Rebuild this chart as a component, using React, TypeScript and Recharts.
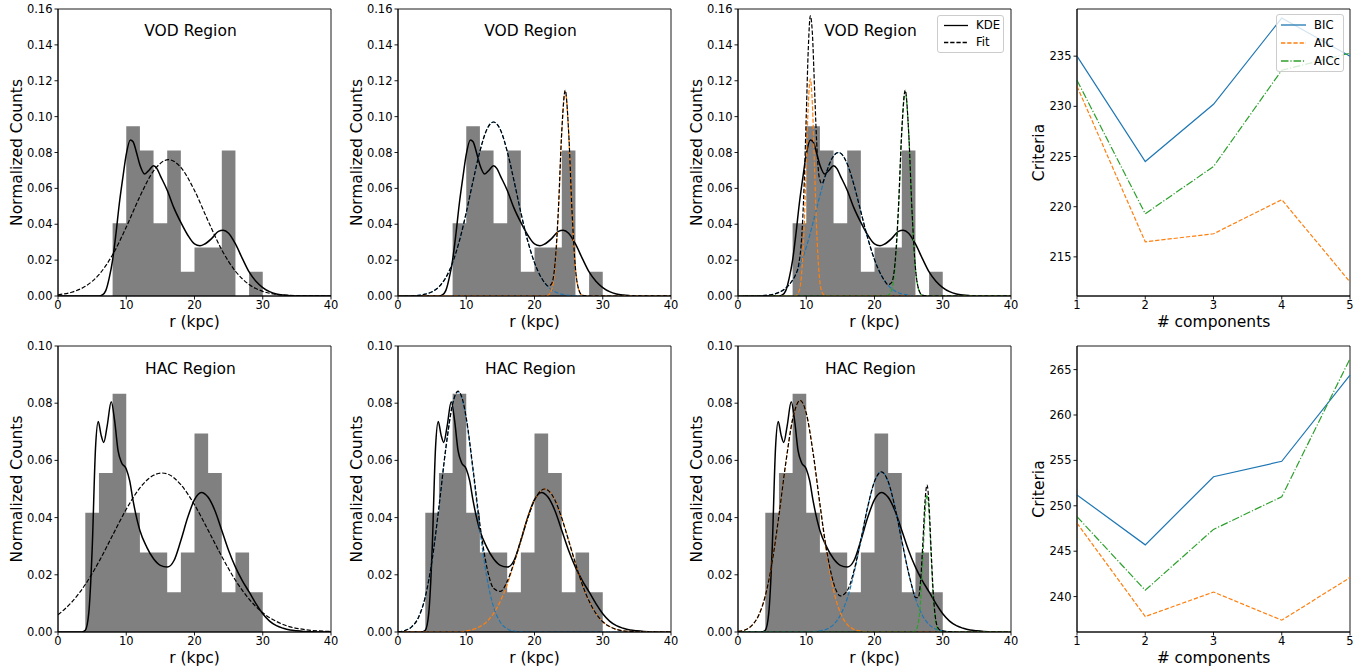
import React from "react";
import { ComposedChart, LineChart, Line, Area, XAxis, YAxis, Label, Legend, ReferenceArea } from "recharts";

const FONT = "'DejaVu Sans', sans-serif";
const BLUE = "#1f77b4";
const ORANGE = "#ff7f0e";
const GREEN = "#2ca02c";
const DASH = "4.3 1.9";
const DASHDOT = "7.5 1.9 1.2 1.9";

// histogram bins (edges in kpc, normalized heights)
const vodEdges = [8, 10, 12, 14, 16, 18, 20, 22, 24, 26, 28, 30];
const vodHeights = [0.0405, 0.0946, 0.0811, 0.0405, 0.0811, 0.0135, 0.027, 0.027, 0.0811, 0, 0.0135];
const hacEdges = [4, 6, 8, 10, 12, 14, 16, 18, 20, 22, 24, 26, 28, 30];
const hacHeights = [0.0417, 0.0556, 0.0833, 0.0417, 0.0278, 0.0278, 0.0139, 0.0278, 0.0694, 0.0556, 0.0139, 0.0278, 0.0139];

// KDE curves
const vodKde: [number, number][] = [[0, 0], [6, 0], [6.5, 0.0006], [7, 0.003], [7.5, 0.01], [8, 0.02], [8.5, 0.035], [9, 0.052], [9.5, 0.066], [10, 0.079], [10.6, 0.087], [11, 0.086], [11.5, 0.08], [12, 0.073], [12.7, 0.068], [13.3, 0.07], [14, 0.0726], [14.5, 0.071], [15, 0.067], [16, 0.059], [17, 0.049], [18, 0.041], [19, 0.034], [20, 0.029], [20.8, 0.028], [21.5, 0.029], [22.5, 0.032], [23.5, 0.036], [24.2, 0.0367], [25, 0.035], [26, 0.029], [27, 0.021], [28, 0.0134], [29, 0.0082], [30, 0.0047], [31, 0.0024], [32, 0.0011], [33, 0.0005], [34, 0.0002], [35, 0], [40, 0]];
const hacKde: [number, number][] = [[0, 0], [3.5, 0], [4, 0.0006], [4.5, 0.0064], [5, 0.0285], [5.5, 0.0645], [5.9, 0.0736], [6.3, 0.069], [6.7, 0.0663], [7.2, 0.072], [7.8, 0.0805], [8.3, 0.0738], [8.8, 0.0634], [9.3, 0.0593], [10, 0.057], [10.5, 0.0529], [11, 0.0459], [12, 0.0355], [13, 0.0297], [14, 0.0256], [15, 0.0233], [16, 0.0227], [17, 0.025], [18, 0.032], [19, 0.04], [20, 0.0463], [21, 0.0488], [22, 0.0471], [23, 0.0424], [24, 0.0355], [25, 0.0285], [26, 0.0227], [27, 0.018], [28, 0.014], [29, 0.0099], [30, 0.0064], [31, 0.0038], [32, 0.0022], [33, 0.0013], [34, 0.0007], [35, 0.0004], [36, 0.0002], [37, 0.0001], [38, 0], [40, 0]];

// VOD fits
const vodFit1: [number, number][] = [[0, 0.0007], [2, 0.0021], [4, 0.0054], [6, 0.0119], [8, 0.023], [10, 0.0384], [12, 0.0555], [14, 0.0697], [16.2, 0.076], [18, 0.0717], [20, 0.0588], [22, 0.0418], [24, 0.0257], [26, 0.0138], [28, 0.0064], [30, 0.0026], [32, 0.0009], [34, 0.0003], [36, 0.0001], [40, 0]];
const vodFit2Blue: [number, number][] = [[0, 0], [2, 0.0001], [4, 0.001], [5, 0.0024], [6, 0.0051], [7, 0.0102], [8, 0.0186], [9, 0.0308], [10, 0.0465], [11, 0.0642], [12, 0.0807], [13, 0.0927], [14, 0.097], [15, 0.0927], [16, 0.0807], [17, 0.0642], [18, 0.0465], [19, 0.0308], [20, 0.0186], [21, 0.0102], [22, 0.0051], [23, 0.0024], [24, 0.001], [26, 0.0001], [28, 0], [40, 0]];
const vodNarrow: [number, number][] = [[0, 0], [21, 0], [21.5, 0], [22, 0.0004], [22.5, 0.0033], [23, 0.0154], [23.5, 0.0469], [24, 0.0913], [24.5, 0.114], [25, 0.0913], [25.5, 0.0469], [26, 0.0154], [26.5, 0.0033], [27, 0.0004], [27.5, 0], [40, 0]];
const vodFit2: [number, number][] = [[0, 0], [2, 0.0001], [4, 0.001], [5, 0.0024], [6, 0.0051], [7, 0.0102], [8, 0.0186], [9, 0.0308], [10, 0.0465], [11, 0.0642], [12, 0.0807], [13, 0.0927], [14, 0.097], [15, 0.0927], [16, 0.0807], [17, 0.0642], [18, 0.0465], [19, 0.0308], [20, 0.0186], [21, 0.0102], [21.5, 0.0073], [22, 0.0055], [22.5, 0.0068], [23, 0.0178], [23.5, 0.0484], [24, 0.0923], [24.5, 0.1146], [25, 0.0917], [25.5, 0.0471], [26, 0.0155], [26.5, 0.0034], [27, 0.0004], [28, 0], [40, 0]];
const vodFit3Orange: [number, number][] = [[0, 0], [7.8, 0], [8.4, 0.0001], [8.9, 0.0022], [9.3, 0.0116], [9.7, 0.0393], [10, 0.0734], [10.3, 0.1068], [10.6, 0.121], [10.9, 0.1068], [11.2, 0.0734], [11.5, 0.0393], [11.9, 0.0116], [12.3, 0.0022], [12.8, 0.0001], [13.4, 0], [40, 0]];
const vodFit3Blue: [number, number][] = [[0, 0], [3, 0.0001], [4, 0.0003], [5, 0.0008], [6, 0.002], [7, 0.0044], [8, 0.0089], [9, 0.0164], [10, 0.0272], [11, 0.041], [12, 0.056], [13, 0.0695], [14, 0.0781], [14.7, 0.08], [15, 0.0797], [16, 0.0737], [17, 0.0618], [18, 0.047], [19, 0.0324], [20, 0.0203], [21, 0.0115], [22, 0.0059], [23, 0.0028], [24, 0.0012], [25, 0.0005], [26, 0.0002], [27, 0.0001], [28, 0], [40, 0]];
const vodFit3: [number, number][] = [[0, 0], [3, 0.0001], [4, 0.0003], [5, 0.0008], [6, 0.002], [7, 0.0044], [7.8, 0.0078], [8.4, 0.0116], [8.9, 0.0177], [9.3, 0.0309], [9.7, 0.0629], [10, 0.1006], [10.3, 0.1379], [10.6, 0.1562], [10.9, 0.1463], [11.2, 0.1174], [11.5, 0.0878], [11.9, 0.0662], [12.3, 0.0626], [12.8, 0.0672], [13.4, 0.0737], [14, 0.0781], [14.7, 0.08], [15, 0.0797], [16, 0.0737], [17, 0.0618], [18, 0.047], [19, 0.0324], [20, 0.0203], [21, 0.0115], [21.5, 0.0084], [22, 0.0063], [22.5, 0.0074], [23, 0.0182], [23.5, 0.0487], [24, 0.0925], [24.5, 0.1147], [25, 0.0918], [25.5, 0.0472], [26, 0.0156], [26.5, 0.0034], [27, 0.0005], [28, 0], [40, 0]];

// HAC fits
const hacFit1: [number, number][] = [[0, 0.006], [2, 0.0104], [4, 0.0166], [6, 0.0246], [8, 0.0338], [10, 0.0429], [12, 0.0504], [14, 0.0548], [15.2, 0.0556], [16, 0.0553], [18, 0.0515], [20, 0.0445], [22, 0.0356], [24, 0.0264], [26, 0.0181], [28, 0.0115], [30, 0.0067], [32, 0.0037], [34, 0.0018], [36, 0.0009], [38, 0.0004], [40, 0.0002]];
const hacFit2Blue: [number, number][] = [[0, 0.0001], [1, 0.0005], [2, 0.0018], [3, 0.0051], [4, 0.0123], [5, 0.0252], [6, 0.0437], [7, 0.0641], [8, 0.0796], [8.8, 0.084], [9.5, 0.0806], [10, 0.0745], [11, 0.0561], [12, 0.0358], [13, 0.0193], [14, 0.0088], [15, 0.0034], [16, 0.0011], [17, 0.0003], [18, 0.0001], [19, 0], [40, 0]];
const hacFit2Orange: [number, number][] = [[0, 0], [9, 0], [10, 0.0004], [11, 0.0009], [12, 0.0019], [13, 0.0036], [14, 0.0065], [15, 0.0108], [16, 0.0166], [17, 0.024], [18, 0.032], [19, 0.0398], [20, 0.0461], [21, 0.0495], [21.5, 0.05], [22, 0.0495], [23, 0.0461], [24, 0.0398], [25, 0.032], [26, 0.024], [27, 0.0166], [28, 0.0108], [29, 0.0065], [30, 0.0036], [31, 0.0019], [32, 0.0009], [33, 0.0004], [34, 0.0002], [36, 0], [40, 0]];
const hacFit2: [number, number][] = [[0, 0.0001], [1, 0.0005], [2, 0.0018], [3, 0.0051], [4, 0.0123], [5, 0.0252], [6, 0.0437], [7, 0.0641], [8, 0.0797], [8.8, 0.0842], [9.5, 0.0809], [10, 0.0749], [11, 0.057], [12, 0.0377], [13, 0.0229], [14, 0.0153], [15, 0.0142], [16, 0.0177], [17, 0.0243], [18, 0.0321], [19, 0.0398], [20, 0.0461], [21, 0.0495], [21.5, 0.05], [22, 0.0495], [23, 0.0461], [24, 0.0398], [25, 0.032], [26, 0.024], [27, 0.0166], [28, 0.0108], [29, 0.0065], [30, 0.0036], [31, 0.0019], [32, 0.0009], [33, 0.0004], [34, 0.0002], [36, 0], [40, 0]];
const hacFit3Orange: [number, number][] = [[0, 0.0002], [1, 0.0007], [2, 0.0022], [3, 0.0057], [4, 0.0126], [5, 0.0244], [6, 0.0408], [7, 0.0591], [8, 0.0743], [9.1, 0.081], [10, 0.0765], [11, 0.0626], [12, 0.0444], [13, 0.0273], [14, 0.0146], [15, 0.0067], [16, 0.0027], [17, 0.0009], [18, 0.0003], [19, 0.0001], [20, 0], [40, 0]];
const hacFit3Blue: [number, number][] = [[0, 0], [10, 0], [11, 0.0001], [12, 0.0004], [13, 0.001], [14, 0.0026], [15, 0.0059], [16, 0.0117], [17, 0.0206], [18, 0.0319], [19, 0.0436], [20, 0.0526], [21, 0.056], [22, 0.0526], [23, 0.0436], [24, 0.0319], [25, 0.0206], [26, 0.0117], [27, 0.0059], [28, 0.0026], [29, 0.001], [30, 0.0004], [31, 0.0001], [32, 0], [40, 0]];
const hacFit3Green: [number, number][] = [[0, 0], [25.5, 0], [26, 0.0004], [26.4, 0.0029], [26.8, 0.0126], [27.1, 0.0265], [27.4, 0.0414], [27.7, 0.048], [28, 0.0414], [28.3, 0.0265], [28.6, 0.0126], [29, 0.0029], [29.4, 0.0004], [29.9, 0], [40, 0]];
const hacFit3: [number, number][] = [[0, 0.0002], [1, 0.0007], [2, 0.0022], [3, 0.0057], [4, 0.0126], [5, 0.0244], [6, 0.0408], [7, 0.0591], [8, 0.0743], [9.1, 0.081], [10, 0.0765], [11, 0.0627], [12, 0.0448], [13, 0.0283], [14, 0.0172], [15, 0.0126], [16, 0.0144], [17, 0.0215], [18, 0.0322], [19, 0.0437], [20, 0.0526], [21, 0.056], [22, 0.0526], [23, 0.0436], [24, 0.0319], [25, 0.0206], [25.5, 0.0158], [26, 0.0121], [26.4, 0.012], [26.8, 0.0194], [27.1, 0.032], [27.4, 0.0457], [27.7, 0.0514], [28, 0.044], [28.3, 0.0285], [28.6, 0.0141], [29, 0.0039], [29.4, 0.0011], [29.9, 0.0004], [31, 0.0001], [32, 0], [40, 0]];

// information criteria vs number of components
const nComponents = [1, 2, 3, 4, 5];
const vodBic = [235.0, 224.5, 230.2, 238.8, 235.0];
const vodAic = [232.0, 216.5, 217.3, 220.7, 212.5];
const vodAicc = [232.6, 219.3, 224.0, 233.6, 235.3];
const hacBic = [251.2, 245.7, 253.2, 254.9, 264.4];
const hacAic = [248.1, 237.8, 240.5, 237.4, 242.1];
const hacAicc = [248.8, 240.7, 247.4, 251.0, 266.2];

const xTicks = [0, 10, 20, 30, 40];
const vodYTicks = [0, 0.02, 0.04, 0.06, 0.08, 0.1, 0.12, 0.14, 0.16];
const hacYTicks = [0, 0.02, 0.04, 0.06, 0.08, 0.1];
const vodCritTicks = [215, 220, 225, 230, 235];
const hacCritTicks = [240, 245, 250, 255, 260, 265];

const pts = (a: [number, number][]) => a.map(([x, y]) => ({ x, y }));
const steps = (edges: number[], h: number[]) => edges.map((x, i) => ({ x, y: i < h.length ? h[i] : 0 }));

const tick = { fill: "#000", fontSize: 11.5, fontFamily: FONT };
const labelStyle = { fontSize: 15.5, fontFamily: FONT, fill: "#000" };
const axisLine = { stroke: "#000", strokeWidth: 0.9 };

type Curve = { data: [number, number][]; color: string };
type LegendRow = { label: string; color: string; dash?: string };

function LegendBox({ rows, rowH, lineX, lineW, textX, w }: { rows: LegendRow[]; rowH: number; lineX: number; lineW: number; textX: number; w: number }) {
  return (
    <div style={{ width: w, boxSizing: "border-box", border: "1px solid #cccccc", borderRadius: 3, background: "rgba(255,255,255,0.8)", padding: "1px 0" }}>
      {rows.map(r => (
        <div key={r.label} style={{ position: "relative", height: rowH, fontFamily: FONT, fontSize: 11.7, color: "#000" }}>
          <svg width={lineW} height={rowH} style={{ position: "absolute", left: lineX, top: 0 }}>
            <line x1={0} x2={lineW} y1={rowH / 2} y2={rowH / 2} stroke={r.color} strokeWidth={1.3} strokeDasharray={r.dash} />
          </svg>
          <span style={{ position: "absolute", left: textX, top: 0, lineHeight: `${rowH}px` }}>{r.label}</span>
        </div>
      ))}
    </div>
  );
}

function HistPanel({ left, top, mt, xh, lo, titleBase, title, yMax, yTicks, hist, kde, comps, fit, legend }: any) {
  const W = 340, H = 334, plotL = 58, plotW = 273;
  return (
    <div style={{ position: "absolute", left, top, width: W, height: H }}>
      <ComposedChart width={W} height={H} data={hist} margin={{ top: mt, right: 9, left: 0, bottom: 0 }}>
        <XAxis type="number" dataKey="x" domain={[0, 40]} ticks={xTicks} interval={0} allowDataOverflow height={xh} tickSize={3.5} tickMargin={1} axisLine={axisLine} tickLine={axisLine} tick={tick}>
          <Label value="r (kpc)" position="insideBottom" offset={lo} style={labelStyle} />
        </XAxis>
        <YAxis type="number" domain={[0, yMax]} ticks={yTicks} interval={0} allowDataOverflow width={58} tickSize={3.5} axisLine={axisLine} tickLine={axisLine} tick={tick} tickFormatter={(v: number) => v.toFixed(2)}>
          <Label value="Normalized Counts" angle={-90} position="insideLeft" offset={16} style={{ ...labelStyle, textAnchor: "middle" }} />
        </YAxis>
        <Area dataKey="y" type="stepAfter" fill="#808080" fillOpacity={1} stroke="none" isAnimationActive={false} />
        <Line data={pts(kde)} dataKey="y" type="monotone" stroke="#000" strokeWidth={1.5} dot={false} isAnimationActive={false} />
        {comps.map((c: Curve, i: number) => (
          <Line key={i} data={pts(c.data)} dataKey="y" type="monotone" stroke={c.color} strokeWidth={1.2} strokeDasharray={DASH} dot={false} isAnimationActive={false} />
        ))}
        <Line data={pts(fit)} dataKey="y" type="monotone" stroke="#000" strokeWidth={1.2} strokeDasharray={DASH} dot={false} isAnimationActive={false} />
        <ReferenceArea x1={0} x2={40} y1={0} y2={yMax} fill="none" stroke="#000" strokeWidth={0.9} ifOverflow="visible" />
        {legend && (
          <Legend layout="horizontal" verticalAlign="middle" align="center" wrapperStyle={{ left: 257, top: 15, width: 67, height: 38 }}
            content={() => <LegendBox w={67} rowH={17} lineX={6} lineW={24} textX={38} rows={[{ label: "KDE", color: "#000" }, { label: "Fit", color: "#000", dash: DASH }]} />} />
        )}
      </ComposedChart>
      <div style={{ position: "absolute", left: plotL - 4, width: plotW, top: titleBase - 12.4, textAlign: "center", fontFamily: FONT, fontSize: 15.5, lineHeight: 1, color: "#000" }}>{title}</div>
    </div>
  );
}

function CritPanel({ top, mt, xh, lo, domain, ticks, bic, aic, aicc, legend }: any) {
  const W = 352, H = 334;
  const rows = nComponents.map((n, i) => ({ n, bic: bic[i], aic: aic[i], aicc: aicc[i] }));
  return (
    <div style={{ position: "absolute", left: 1020, top, width: W, height: H }}>
      <LineChart width={W} height={H} data={rows} margin={{ top: mt, right: 22, left: 0, bottom: 0 }}>
        <XAxis type="number" dataKey="n" domain={[1, 5]} ticks={nComponents} interval={0} height={xh} tickSize={3.5} tickMargin={1} axisLine={axisLine} tickLine={axisLine} tick={tick}>
          <Label value="# components" position="insideBottom" offset={lo} style={labelStyle} />
        </XAxis>
        <YAxis type="number" domain={domain} ticks={ticks} interval={0} allowDataOverflow width={57} tickSize={3.5} axisLine={axisLine} tickLine={axisLine} tick={tick}>
          <Label value="Criteria" angle={-90} position="insideLeft" offset={18} style={{ ...labelStyle, textAnchor: "middle" }} />
        </YAxis>
        <Line dataKey="bic" type="linear" stroke={BLUE} strokeWidth={1.2} dot={false} isAnimationActive={false} />
        <Line dataKey="aic" type="linear" stroke={ORANGE} strokeWidth={1.2} strokeDasharray={DASH} dot={false} isAnimationActive={false} />
        <Line dataKey="aicc" type="linear" stroke={GREEN} strokeWidth={1.2} strokeDasharray={DASHDOT} dot={false} isAnimationActive={false} />
        <ReferenceArea x1={1} x2={5} y1={domain[0]} y2={domain[1]} fill="none" stroke="#000" strokeWidth={0.9} ifOverflow="visible" />
        {legend && (
          <Legend layout="horizontal" verticalAlign="middle" align="center" wrapperStyle={{ left: 256, top: 14, width: 68, height: 56 }}
            content={() => <LegendBox w={68} rowH={18} lineX={4} lineW={25} textX={37} rows={[{ label: "BIC", color: BLUE }, { label: "AIC", color: ORANGE, dash: DASH }, { label: "AICc", color: GREEN, dash: DASHDOT }]} />} />
        )}
      </LineChart>
    </div>
  );
}

export default function App() {
  const vodHist = steps(vodEdges, vodHeights);
  const hacHist = steps(hacEdges, hacHeights);
  const top = { top: 0, mt: 9, xh: 38, lo: 7, titleBase: 36, title: "VOD Region", yMax: 0.16, yTicks: vodYTicks, hist: vodHist, kde: vodKde };
  const bot = { top: 334, mt: 12, xh: 36, lo: 5, titleBase: 40, title: "HAC Region", yMax: 0.1, yTicks: hacYTicks, hist: hacHist, kde: hacKde };
  return (
    <div style={{ position: "absolute", left: 0, top: 0, width: 1372, height: 668, background: "#fff" }}>
      <HistPanel {...top} left={0} comps={[]} fit={vodFit1} />
      <HistPanel {...top} left={340} comps={[{ data: vodFit2Blue, color: BLUE }, { data: vodNarrow, color: ORANGE }]} fit={vodFit2} />
      <HistPanel {...top} left={680} comps={[{ data: vodFit3Blue, color: BLUE }, { data: vodFit3Orange, color: ORANGE }, { data: vodNarrow, color: GREEN }]} fit={vodFit3} legend />
      <CritPanel top={0} mt={9} xh={38} lo={7} domain={[211.1, 239.7]} ticks={vodCritTicks} bic={vodBic} aic={vodAic} aicc={vodAicc} legend />
      <HistPanel {...bot} left={0} comps={[]} fit={hacFit1} />
      <HistPanel {...bot} left={340} comps={[{ data: hacFit2Blue, color: BLUE }, { data: hacFit2Orange, color: ORANGE }]} fit={hacFit2} />
      <HistPanel {...bot} left={680} comps={[{ data: hacFit3Blue, color: BLUE }, { data: hacFit3Orange, color: ORANGE }, { data: hacFit3Green, color: GREEN }]} fit={hacFit3} />
      <CritPanel top={334} mt={12} xh={36} lo={5} domain={[236.1, 267.6]} ticks={hacCritTicks} bic={hacBic} aic={hacAic} aicc={hacAicc} />
    </div>
  );
}
